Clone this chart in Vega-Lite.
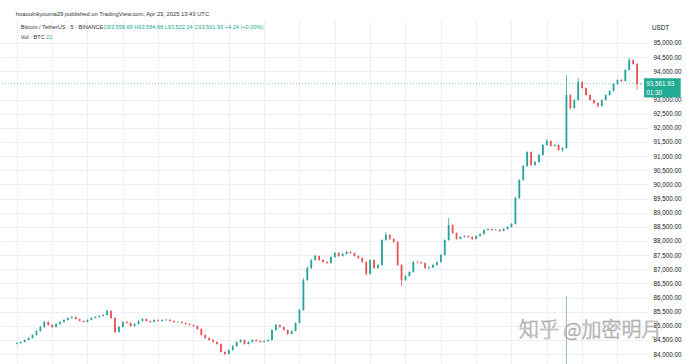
{
"$schema": "https://vega.github.io/schema/vega-lite/v6.json",
"width": 648,
"height": 344,
"autosize": {"type": "none"},
"padding": {"left": 0, "top": 20, "right": 39, "bottom": 0},
"background": "#ffffff",
"config": {"view": {"stroke": null}, "font": "Liberation Sans",
 "axisX": {"labels": false, "ticks": false, "domain": false, "gridColor": "#eceef3", "gridWidth": 1},
 "axisY": {"ticks": false, "domain": false, "labelPadding": 5, "labelFontSize": 6.3, "labelColor": "#131722", "gridColor": "#eceef3", "labelOverlap": false, "labelFont": "Liberation Sans"}},
"data": {"values": [
{"i":0,"o":84370,"h":84420,"l":84340,"c":84392},
{"i":1,"o":84392,"h":84450,"l":84370,"c":84427},
{"i":2,"o":84427,"h":84520,"l":84410,"c":84498},
{"i":3,"o":84498,"h":84600,"l":84480,"c":84569},
{"i":4,"o":84569,"h":84700,"l":84550,"c":84675},
{"i":5,"o":84675,"h":84840,"l":84650,"c":84816},
{"i":6,"o":84816,"h":85000,"l":84790,"c":84958},
{"i":7,"o":84958,"h":85180,"l":84930,"c":85134},
{"i":8,"o":85134,"h":85160,"l":85000,"c":85029},
{"i":9,"o":85029,"h":85050,"l":84920,"c":84958},
{"i":10,"o":84958,"h":85090,"l":84940,"c":85064},
{"i":11,"o":85064,"h":85160,"l":85040,"c":85134},
{"i":12,"o":85134,"h":85230,"l":85110,"c":85205},
{"i":13,"o":85205,"h":85300,"l":85180,"c":85276},
{"i":14,"o":85276,"h":85340,"l":85250,"c":85311},
{"i":15,"o":85311,"h":85330,"l":85220,"c":85241},
{"i":16,"o":85241,"h":85260,"l":85150,"c":85170},
{"i":17,"o":85170,"h":85190,"l":85110,"c":85134},
{"i":18,"o":85134,"h":85230,"l":85120,"c":85205},
{"i":19,"o":85205,"h":85300,"l":85190,"c":85276},
{"i":20,"o":85276,"h":85340,"l":85260,"c":85311},
{"i":21,"o":85311,"h":85370,"l":85290,"c":85346},
{"i":22,"o":85346,"h":85410,"l":85330,"c":85382},
{"i":23,"o":85382,"h":85580,"l":85360,"c":85523},
{"i":24,"o":85523,"h":85550,"l":85250,"c":85276},
{"i":25,"o":85276,"h":85300,"l":84740,"c":84781},
{"i":26,"o":84781,"h":84990,"l":84760,"c":84958},
{"i":27,"o":84958,"h":85160,"l":84940,"c":85134},
{"i":28,"o":85134,"h":85160,"l":85080,"c":85099},
{"i":29,"o":85099,"h":85120,"l":84970,"c":84993},
{"i":30,"o":84993,"h":85090,"l":84970,"c":85064},
{"i":31,"o":85064,"h":85190,"l":85050,"c":85170},
{"i":32,"o":85170,"h":85270,"l":85150,"c":85241},
{"i":33,"o":85241,"h":85260,"l":85150,"c":85170},
{"i":34,"o":85170,"h":85190,"l":85110,"c":85134},
{"i":35,"o":85134,"h":85230,"l":85120,"c":85205},
{"i":36,"o":85205,"h":85230,"l":85150,"c":85170},
{"i":37,"o":85170,"h":85230,"l":85150,"c":85205},
{"i":38,"o":85205,"h":85240,"l":85180,"c":85210},
{"i":39,"o":85210,"h":85230,"l":85150,"c":85170},
{"i":40,"o":85170,"h":85190,"l":85110,"c":85134},
{"i":41,"o":85134,"h":85170,"l":85100,"c":85140},
{"i":42,"o":85140,"h":85160,"l":85080,"c":85099},
{"i":43,"o":85099,"h":85120,"l":85040,"c":85064},
{"i":44,"o":85064,"h":85090,"l":85010,"c":85029},
{"i":45,"o":85029,"h":85050,"l":84970,"c":84993},
{"i":46,"o":84993,"h":85010,"l":84860,"c":84887},
{"i":47,"o":84887,"h":84910,"l":84650,"c":84675},
{"i":48,"o":84675,"h":84700,"l":84540,"c":84569},
{"i":49,"o":84569,"h":84590,"l":84470,"c":84498},
{"i":50,"o":84498,"h":84520,"l":84400,"c":84427},
{"i":51,"o":84427,"h":84450,"l":84330,"c":84357},
{"i":52,"o":84357,"h":84380,"l":84050,"c":84074},
{"i":53,"o":84074,"h":84100,"l":83960,"c":84003},
{"i":54,"o":84003,"h":84170,"l":83980,"c":84145},
{"i":55,"o":84145,"h":84310,"l":84120,"c":84286},
{"i":56,"o":84286,"h":84450,"l":84260,"c":84427},
{"i":57,"o":84427,"h":84530,"l":84400,"c":84498},
{"i":58,"o":84498,"h":84520,"l":84330,"c":84357},
{"i":59,"o":84357,"h":84450,"l":84340,"c":84427},
{"i":60,"o":84427,"h":84520,"l":84410,"c":84498},
{"i":61,"o":84498,"h":84520,"l":84440,"c":84463},
{"i":62,"o":84463,"h":84480,"l":84400,"c":84427},
{"i":63,"o":84427,"h":84490,"l":84410,"c":84463},
{"i":64,"o":84463,"h":84530,"l":84440,"c":84498},
{"i":65,"o":84498,"h":84880,"l":84480,"c":84852},
{"i":66,"o":84852,"h":85060,"l":84830,"c":85029},
{"i":67,"o":85029,"h":85050,"l":84930,"c":84958},
{"i":68,"o":84958,"h":84980,"l":84830,"c":84852},
{"i":69,"o":84852,"h":84870,"l":84680,"c":84710},
{"i":70,"o":84710,"h":84840,"l":84690,"c":84816},
{"i":71,"o":84816,"h":85120,"l":84800,"c":85099},
{"i":72,"o":85099,"h":85590,"l":85080,"c":85559},
{"i":73,"o":85559,"h":86680,"l":85530,"c":86620},
{"i":74,"o":86620,"h":87100,"l":86580,"c":87044},
{"i":75,"o":87044,"h":87360,"l":87010,"c":87327},
{"i":76,"o":87327,"h":87510,"l":87300,"c":87468},
{"i":77,"o":87468,"h":87490,"l":87300,"c":87327},
{"i":78,"o":87327,"h":87350,"l":87230,"c":87256},
{"i":79,"o":87256,"h":87280,"l":87190,"c":87221},
{"i":80,"o":87221,"h":87460,"l":87200,"c":87433},
{"i":81,"o":87433,"h":87610,"l":87410,"c":87574},
{"i":82,"o":87574,"h":87600,"l":87440,"c":87468},
{"i":83,"o":87468,"h":87570,"l":87450,"c":87539},
{"i":84,"o":87539,"h":87650,"l":87520,"c":87610},
{"i":85,"o":87610,"h":87640,"l":87550,"c":87574},
{"i":86,"o":87574,"h":87590,"l":87440,"c":87468},
{"i":87,"o":87468,"h":87490,"l":87370,"c":87397},
{"i":88,"o":87397,"h":87420,"l":87230,"c":87256},
{"i":89,"o":87256,"h":87280,"l":86780,"c":86832},
{"i":90,"o":86832,"h":87360,"l":86810,"c":87327},
{"i":91,"o":87327,"h":87350,"l":87010,"c":87044},
{"i":92,"o":87044,"h":87180,"l":87020,"c":87150},
{"i":93,"o":87150,"h":88060,"l":87130,"c":88034},
{"i":94,"o":88034,"h":88320,"l":88010,"c":88211},
{"i":95,"o":88211,"h":88240,"l":88040,"c":88069},
{"i":96,"o":88069,"h":88090,"l":87930,"c":87963},
{"i":97,"o":87963,"h":87990,"l":87120,"c":87150},
{"i":98,"o":87150,"h":87170,"l":86400,"c":86620},
{"i":99,"o":86620,"h":86790,"l":86600,"c":86761},
{"i":100,"o":86761,"h":86930,"l":86740,"c":86903},
{"i":101,"o":86903,"h":87290,"l":86880,"c":87256},
{"i":102,"o":87256,"h":87300,"l":87200,"c":87250},
{"i":103,"o":87250,"h":87270,"l":87190,"c":87221},
{"i":104,"o":87221,"h":87240,"l":87010,"c":87044},
{"i":105,"o":87044,"h":87100,"l":86990,"c":87060},
{"i":106,"o":87060,"h":87180,"l":87040,"c":87150},
{"i":107,"o":87150,"h":87280,"l":87130,"c":87256},
{"i":108,"o":87256,"h":87540,"l":87230,"c":87504},
{"i":109,"o":87504,"h":88060,"l":87480,"c":88034},
{"i":110,"o":88034,"h":88810,"l":88010,"c":88564},
{"i":111,"o":88564,"h":88590,"l":88250,"c":88281},
{"i":112,"o":88281,"h":88300,"l":88040,"c":88069},
{"i":113,"o":88069,"h":88170,"l":88050,"c":88140},
{"i":114,"o":88140,"h":88200,"l":88120,"c":88175},
{"i":115,"o":88175,"h":88190,"l":88110,"c":88140},
{"i":116,"o":88140,"h":88160,"l":88040,"c":88069},
{"i":117,"o":88069,"h":88200,"l":88050,"c":88175},
{"i":118,"o":88175,"h":88270,"l":88150,"c":88246},
{"i":119,"o":88246,"h":88410,"l":88230,"c":88388},
{"i":120,"o":88388,"h":88450,"l":88370,"c":88423},
{"i":121,"o":88423,"h":88440,"l":88360,"c":88388},
{"i":122,"o":88388,"h":88420,"l":88350,"c":88395},
{"i":123,"o":88395,"h":88410,"l":88320,"c":88352},
{"i":124,"o":88352,"h":88450,"l":88340,"c":88423},
{"i":125,"o":88423,"h":88520,"l":88400,"c":88494},
{"i":126,"o":88494,"h":88630,"l":88470,"c":88600},
{"i":127,"o":88600,"h":89550,"l":88580,"c":89519},
{"i":128,"o":89519,"h":90180,"l":89490,"c":90156},
{"i":129,"o":90156,"h":90680,"l":90130,"c":90651},
{"i":130,"o":90651,"h":91180,"l":90620,"c":91146},
{"i":131,"o":91146,"h":91170,"l":90650,"c":90686},
{"i":132,"o":90686,"h":90820,"l":90660,"c":90792},
{"i":133,"o":90792,"h":91070,"l":90770,"c":91040},
{"i":134,"o":91040,"h":91420,"l":91010,"c":91393},
{"i":135,"o":91393,"h":91600,"l":91370,"c":91535},
{"i":136,"o":91535,"h":91560,"l":91330,"c":91358},
{"i":137,"o":91358,"h":91420,"l":91330,"c":91393},
{"i":138,"o":91393,"h":91410,"l":91190,"c":91216},
{"i":139,"o":91216,"h":91310,"l":91140,"c":91287},
{"i":140,"o":91287,"h":93870,"l":91260,"c":93161,"v":988},
{"i":141,"o":93161,"h":93190,"l":92650,"c":92702},
{"i":142,"o":92702,"h":93010,"l":92680,"c":92984},
{"i":143,"o":92984,"h":93760,"l":92960,"c":93621},
{"i":144,"o":93621,"h":93650,"l":93380,"c":93409},
{"i":145,"o":93409,"h":93430,"l":93130,"c":93161},
{"i":146,"o":93161,"h":93180,"l":92950,"c":92984},
{"i":147,"o":92984,"h":93010,"l":92850,"c":92878},
{"i":148,"o":92878,"h":92900,"l":92720,"c":92772},
{"i":149,"o":92772,"h":93010,"l":92750,"c":92984},
{"i":150,"o":92984,"h":93190,"l":92960,"c":93161},
{"i":151,"o":93161,"h":93330,"l":93140,"c":93303},
{"i":152,"o":93303,"h":93580,"l":93280,"c":93550},
{"i":153,"o":93550,"h":93720,"l":93520,"c":93692},
{"i":154,"o":93692,"h":93720,"l":93620,"c":93656},
{"i":155,"o":93656,"h":94080,"l":93630,"c":94045},
{"i":156,"o":94045,"h":94470,"l":94020,"c":94399},
{"i":157,"o":94399,"h":94420,"l":94230,"c":94258},
{"i":158,"o":94258,"h":94290,"l":93350,"c":93559.69},
{"i":159,"o":93559.69,"h":93584.68,"l":93522.24,"c":93561.93}
]},
"layer": [
{"layer": [
 {"mark": {"type": "rule", "strokeWidth": 0.8},
  "encoding": {
   "x": {"field": "i", "type": "quantitative", "scale": {"domain": [-3.01, 159.5], "nice": false, "zero": false},
     "axis": {"values": [0,9,18,27,36,45,54,63,72,81,90,99,108,117,126,135,144,153], "title": null}},
   "y": {"field": "l", "type": "quantitative", "scale": {"domain": [83649, 95813], "nice": false, "zero": false},
     "axis": {"orient": "right", "values": [84000,84500,85000,85500,86000,86500,87000,87500,88000,88500,89000,89500,90000,90500,91000,91500,92000,92500,93000,94000,94500,95000], "format": ",.2f", "title": null}},
   "y2": {"field": "h"},
   "color": {"condition": {"test": "datum.o < datum.c", "value": "#26a69a"}, "value": "#ef5350"}
  }},
 {"mark": {"type": "bar", "size": 1.8},
  "encoding": {
   "x": {"field": "i", "type": "quantitative", "axis": {"values": [0,9,18,27,36,45,54,63,72,81,90,99,108,117,126,135,144,153], "title": null}},
   "y": {"field": "o", "type": "quantitative", "axis": {"orient": "right", "values": [84000,84500,85000,85500,86000,86500,87000,87500,88000,88500,89000,89500,90000,90500,91000,91500,92000,92500,93000,94000,94500,95000], "format": ",.2f", "title": null}},
   "y2": {"field": "c"},
   "color": {"condition": {"test": "datum.o < datum.c", "value": "#26a69a"}, "value": "#ef5350"}
  }},
 {"data": {"values": [{}]},
  "mark": {"type": "rule", "strokeDash": [1, 2], "color": "#26a69a", "opacity": 0.7, "strokeWidth": 0.8},
  "encoding": {"y": {"datum": 93561.93, "type": "quantitative", "axis": {"orient": "right", "values": [84000,84500,85000,85500,86000,86500,87000,87500,88000,88500,89000,89500,90000,90500,91000,91500,92000,92500,93000,94000,94500,95000], "format": ",.2f", "title": null}}}},
 {"data": {"values": [
   {"x": 159.77, "x2": 169.1, "y": 93750, "y2": 93073}
  ]},
  "mark": {"type": "rect", "color": "#22ab94"},
  "encoding": {"x": {"field": "x", "type": "quantitative", "axis": {"values": [0,9,18,27,36,45,54,63,72,81,90,99,108,117,126,135,144,153], "title": null}}, "x2": {"field": "x2"},
    "y": {"field": "y", "type": "quantitative", "axis": {"orient": "right", "values": [84000,84500,85000,85500,86000,86500,87000,87500,88000,88500,89000,89500,90000,90500,91000,91500,92000,92500,93000,94000,94500,95000], "format": ",.2f", "title": null}}, "y2": {"field": "y2"}}},
 {"data": {"values": [
   {"x": 160.3, "y": 93550, "t": "93,561.93", "col": "#ffffff", "fs": 6.3},
   {"x": 160.3, "y": 93240, "t": "01:30", "col": "#ffffff", "fs": 6.3},
   {"x": 161.8, "y": 95530, "t": "USDT", "col": "#131722", "fs": 6.3},
   {"x": -0.25, "y": 96025, "t": "hoaoulnkyouma29 published on TradingView.com, Apr 23, 2025 13:43 UTC", "col": "#333333", "fs": 5.8},
   {"x": 1.0, "y": 95566, "t": "Bitcoin / TetherUS · 5 · BINANCE", "col": "#333333", "fs": 5.6},
   {"x": 22.07, "y": 95566, "t": "O93,559.69 H93,584.68 L93,522.24 C93,561.93 +4.24 (+0.00%)", "col": "#22ab94", "fs": 5.6},
   {"x": 1.0, "y": 95212, "t": "Vol · BTC", "col": "#333333", "fs": 5.6},
   {"x": 7.5, "y": 95212, "t": "21", "col": "#22ab94", "fs": 5.6}
  ]},
  "mark": {"type": "text", "align": "left", "baseline": "middle"},
  "encoding": {"x": {"field": "x", "type": "quantitative", "axis": {"values": [0,9,18,27,36,45,54,63,72,81,90,99,108,117,126,135,144,153], "title": null}},
    "y": {"field": "y", "type": "quantitative", "axis": {"orient": "right", "values": [84000,84500,85000,85500,86000,86500,87000,87500,88000,88500,89000,89500,90000,90500,91000,91500,92000,92500,93000,94000,94500,95000], "format": ",.2f", "title": null}},
    "text": {"field": "t"},
    "color": {"field": "col", "type": "nominal", "scale": null},
    "size": {"field": "fs", "type": "quantitative", "scale": null}}},
 {"data": {"values": [{"x": 127.9, "y": 84816, "t": "知乎 @加密明月"}]},
  "mark": {"type": "text", "align": "left", "baseline": "middle", "fontSize": 20, "font": "Noto Sans CJK SC", "fontWeight": 300, "fill": "#f6f6f6", "stroke": "#a0a0a0", "strokeWidth": 0.6},
  "encoding": {"x": {"field": "x", "type": "quantitative", "axis": {"values": [0,9,18,27,36,45,54,63,72,81,90,99,108,117,126,135,144,153], "title": null}},
    "y": {"field": "y", "type": "quantitative", "axis": {"orient": "right", "values": [84000,84500,85000,85500,86000,86500,87000,87500,88000,88500,89000,89500,90000,90500,91000,91500,92000,92500,93000,94000,94500,95000], "format": ",.2f", "title": null}},
    "text": {"field": "t"}}}
]},
{"transform": [{"filter": "isValid(datum.v)"}],
 "mark": {"type": "rule", "strokeWidth": 1, "color": "#9bbcb8"},
 "encoding": {
  "x": {"field": "i", "type": "quantitative", "axis": {"values": [0,9,18,27,36,45,54,63,72,81,90,99,108,117,126,135,144,153], "title": null}},
  "y": {"field": "v", "type": "quantitative", "scale": {"domain": [0, 5000], "nice": false}, "axis": null},
  "y2": {"datum": 0}
 }}
],
"resolve": {"scale": {"y": "independent"}}
}
